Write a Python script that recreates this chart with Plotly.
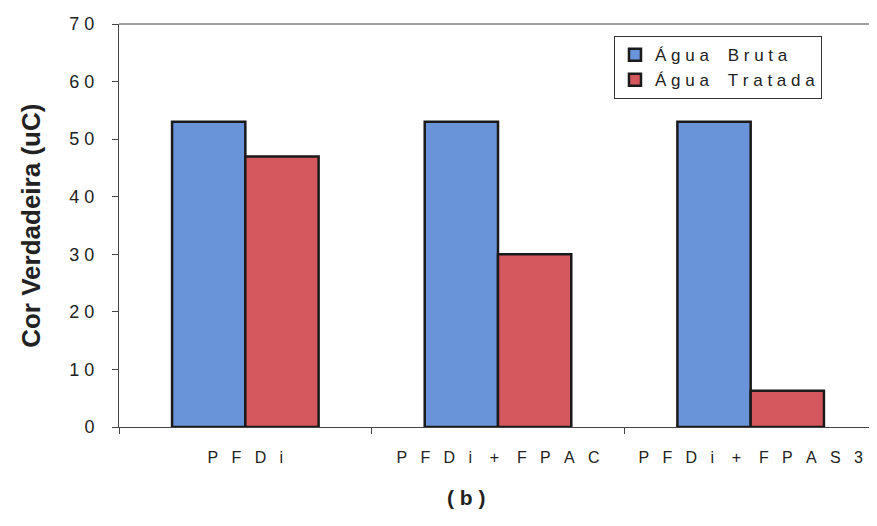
import plotly.graph_objects as go

NB = "\u00a0"

def spaced(s, gap=3, word_gap=4):
    words = s.split(" ")
    return (NB * word_gap).join((NB * gap).join(list(w)) for w in words)

categories_raw = ["PFDi", "PFDi + FPAC", "PFDi + FPAS3"]
categories = [spaced(c, 3, 4) for c in categories_raw]
bruta = [53, 53, 53]
tratada = [47, 30, 6.3]
series_raw = ["Água Bruta", "Água Tratada"]
series_names = [spaced(s, 1, 4) for s in series_raw]
yticks = [0, 10, 20, 30, 40, 50, 60, 70]
ylabels = [NB.join(list(str(v))) for v in yticks]

fig = go.Figure()
fig.add_trace(go.Bar(x=categories, y=bruta, name=series_names[0],
                     marker=dict(color="#6a94da", line=dict(color="#1a1a1a", width=2.5))))
fig.add_trace(go.Bar(x=categories, y=tratada, name=series_names[1],
                     marker=dict(color="#d5585f", line=dict(color="#1a1a1a", width=2.5))))

fig.update_layout(
    width=869, height=518,
    margin=dict(l=111, r=0, t=16, b=99, autoexpand=False),
    paper_bgcolor="white", plot_bgcolor="white",
    barmode="group", bargap=0.42, bargroupgap=0,
    font=dict(family="Liberation Sans, Arial", size=16, color="#222"),
    showlegend=True,
    legend=dict(x=0.653, y=0.97, xanchor="left", yanchor="top",
                bordercolor="#333", borderwidth=1, bgcolor="white",
                font=dict(size=17), tracegroupgap=2, itemwidth=30),
    annotations=[
        dict(text="<b>(" + NB + "b" + NB + ")</b>", x=0.458, xref="paper", y=-0.174, yref="paper",
             showarrow=False, font=dict(size=21, color="#222"), xanchor="center", yanchor="middle"),
        dict(text="<b>Cor Verdadeira (uC)</b>", x=-0.117, xref="paper", y=0.50, yref="paper",
             textangle=-90, showarrow=False, font=dict(size=26, color="#222"),
             xanchor="center", yanchor="middle"),
    ],
)
fig.update_xaxes(showline=True, linecolor="#444", linewidth=1, mirror=False,
                 ticks="outside", tickson="boundaries", ticklen=6, tickcolor="#444",
                 showgrid=False, tickfont=dict(size=16), ticklabelstandoff=16, automargin=False)
fig.update_yaxes(range=[0, 70], tickvals=yticks, ticktext=ylabels, showline=True, linecolor="#444", linewidth=1,
                 mirror=False, ticks="outside", ticklen=6, tickcolor="#444",
                 showgrid=False, zeroline=False, tickfont=dict(size=18), ticklabelstandoff=14,
                 automargin=False)
fig.add_shape(type="line", xref="paper", yref="paper", x0=0, x1=1, y0=1, y1=1,
              line=dict(color="#444", width=1))
fig.write_html("out.html")
